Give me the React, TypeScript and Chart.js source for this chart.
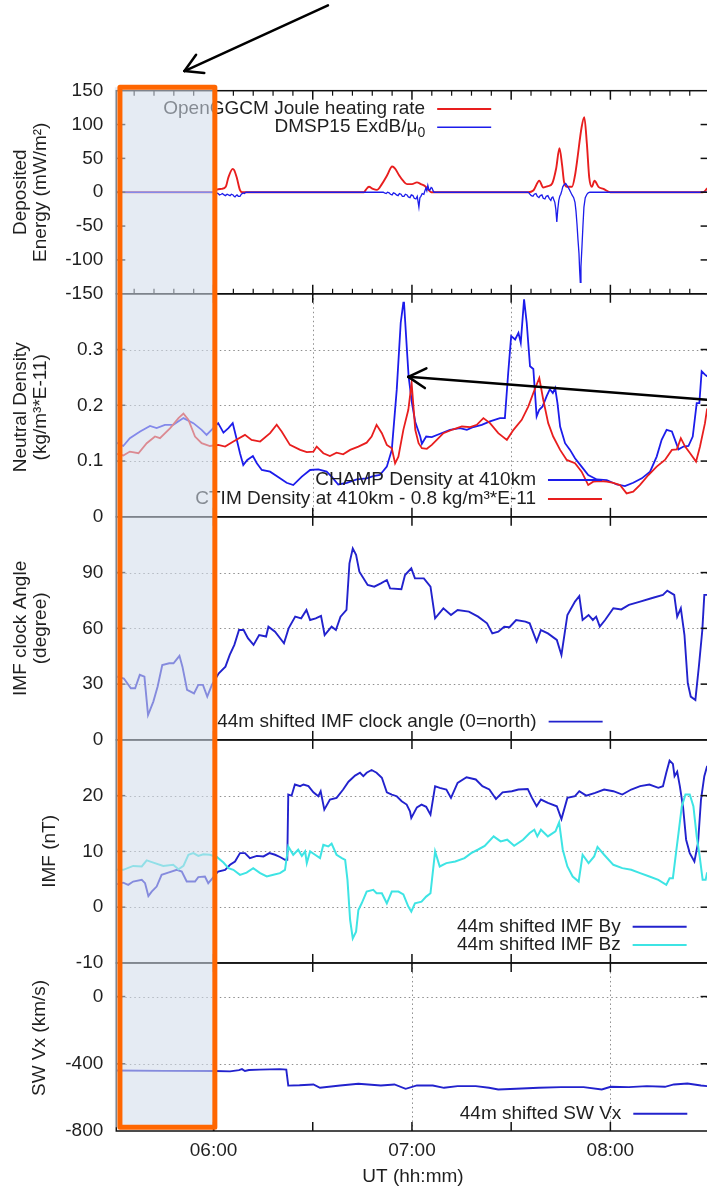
import { useEffect, useRef } from 'react';
import { Chart, registerables } from 'chart.js';

Chart.register(...registerables);

type Pt = [number, number];

// Universal time is kept in minutes after 00:00 UT.
const utStart = 330.6;
const utEnd = 510;
const hourTicks = [360, 420, 480];
const halfHourMarks = [360, 390, 420, 450, 480];

const energyTicks = [150, 100, 50, 0, -50, -100, -150];
const densityTicks = [0.3, 0.2, 0.1, 0];
const clockTicks = [90, 60, 30, 0];
const imfTicks = [20, 10, 0, -10];
const vxTicks = [0, -400, -800];

// OpenGGCM Joule heating rate (mW/m²)
const jouleHeating: Pt[] = [
  [330.6, 0], [360.3, 0], [361.0, 4], [362.5, 5], [363.7, 8], [364.5, 22], [365.8, 34.5], [366.2, 33],
  [367.0, 22], [368.0, 3], [368.6, 0],
  [405.5, 0], [406.1, 4], [407.0, 8], [408.2, 5], [409.4, 3.5], [410.9, 12], [412.5, 25], [414.0, 38],
  [414.9, 35], [416.1, 25], [417.3, 17], [418.5, 12], [420.0, 12], [421.5, 14.5], [422.7, 12], [424.0, 9],
  [424.9, 4], [425.8, 0],
  [455.1, 0], [456.7, 2.5], [458.5, 17], [459.7, 7], [461.1, 9], [462.4, 13], [463.6, 35], [464.6, 65],
  [465.4, 40], [466.0, 15], [466.9, 8], [468.4, 8], [469.3, 25], [469.9, 45], [471.3, 96], [472.1, 111],
  [472.9, 71], [473.6, 22], [474.4, 8], [475.2, 17], [476.4, 8], [477.9, 5], [479.9, 0],
  [508.0, 0], [509.2, 5], [510.5, 10],
];

// DMSP F15 Poynting flux ExdB/μ0 (mW/m²)
const dmspPoynting: Pt[] = [
  [330.6, 0], [360.4, 0], [360.9, -1], [361.4, -2], [361.8, -4], [362.3, -3], [362.7, -2], [363.2, -4],
  [363.6, -5], [364.1, -3], [364.5, -4], [365.0, -5], [365.4, -3], [365.9, -4], [366.2, -6], [366.5, -7],
  [366.8, -5], [367.1, -4], [367.5, -6], [368.0, -6], [368.4, -3], [368.9, -1], [369.3, -2], [369.8, 0],
  [411.3, 0], [411.7, -1], [412.2, -2], [412.6, 0], [413.1, -1], [413.5, -3], [414.0, -4], [414.4, -1],
  [414.9, -2], [415.3, -4], [415.8, -5], [416.2, -2], [416.7, -3], [417.1, -6], [417.6, -6], [418.0, -3],
  [418.5, -4], [418.9, -7], [419.4, -8], [419.8, -4], [420.3, -5], [420.7, -9], [421.2, -10], [421.6, -6],
  [422.1, -22], [422.4, -8], [422.7, -6], [423.1, -2], [423.6, -3], [423.9, 2], [424.2, 6], [424.5, 2],
  [424.8, 10], [425.1, 4], [425.4, 3], [425.8, 7], [426.1, 6], [426.4, 2], [426.7, 0],
  [455.1, 0], [455.4, -1], [455.7, -3], [456.1, -5], [456.6, -6], [457.0, -3], [457.5, -2], [457.9, -6],
  [458.4, -8], [458.8, -5], [459.3, -4], [459.7, -9], [460.2, -10], [460.6, -6], [461.1, -5], [461.5, -9],
  [462.0, -12], [462.3, -8], [462.6, -7], [462.9, -11], [463.2, -15], [463.5, -25], [463.8, -44],
  [464.1, -25], [464.4, -12], [464.7, -6], [465.0, -3], [465.3, 2], [465.6, 8], [466.0, 11], [466.5, 13],
  [467.0, 9], [467.5, 5], [468.0, 0], [468.4, -4], [468.9, -8], [469.3, -15], [469.6, -28], [469.9, -47],
  [470.2, -70], [470.5, -90], [470.7, -115], [470.9, -133], [471.1, -110], [471.4, -81], [471.7, -50],
  [472.0, -22], [472.4, -8], [472.9, -3], [473.3, -1], [473.8, 0], [510, 0],
];

// CHAMP neutral density at 410 km (kg/m³ × 1e-11)
const champDensity: Pt[] = [
  [329.9, 0.135], [332.7, 0.127], [334.7, 0.141], [337.8, 0.153], [340.8, 0.163], [342.8, 0.159],
  [345.3, 0.165], [347.8, 0.165], [350.9, 0.177], [353.9, 0.168], [356.4, 0.156], [357.9, 0.147],
  [359.4, 0.156], [361.4, 0.168], [363.0, 0.151], [364.5, 0.159], [365.8, 0.168], [366.8, 0.144],
  [368.0, 0.114], [369.0, 0.093], [370.2, 0.102], [371.9, 0.109], [373.1, 0.096], [374.6, 0.084],
  [377.1, 0.081], [380.1, 0.069], [382.1, 0.061], [384.1, 0.057], [386.7, 0.072], [389.2, 0.084],
  [391.7, 0.085], [394.2, 0.081], [395.7, 0.072], [397.7, 0.058], [400.3, 0.061], [403.3, 0.067],
  [406.3, 0.069], [408.3, 0.073], [410.3, 0.075], [412.4, 0.09], [413.9, 0.12], [415.4, 0.228],
  [416.6, 0.348], [417.4, 0.384], [417.6, 0.384], [418.6, 0.288], [419.0, 0.251], [420.0, 0.204],
  [421.0, 0.17], [422.5, 0.144], [423.0, 0.131], [424.3, 0.144], [426.0, 0.143], [428.5, 0.149],
  [431.5, 0.156], [434.5, 0.159], [436.6, 0.156], [438.6, 0.161], [441.1, 0.165], [443.6, 0.171],
  [446.6, 0.177], [448.1, 0.177], [449.1, 0.258], [450.0, 0.324], [451.2, 0.318], [452.2, 0.33],
  [452.9, 0.312], [453.9, 0.39], [454.7, 0.348], [455.7, 0.27], [456.7, 0.265], [457.7, 0.18],
  [458.5, 0.192], [459.5, 0.198], [460.7, 0.216], [461.7, 0.229], [462.6, 0.222], [463.3, 0.231],
  [464.0, 0.204], [464.8, 0.162], [466.3, 0.132], [467.8, 0.12], [469.3, 0.105], [471.3, 0.09],
  [473.3, 0.075], [475.9, 0.067], [478.9, 0.066], [481.9, 0.058], [484.4, 0.055], [486.9, 0.061],
  [489.5, 0.069], [492.0, 0.081], [494.0, 0.108], [495.5, 0.138], [497.0, 0.156], [498.6, 0.153],
  [500.6, 0.121], [502.1, 0.126], [503.6, 0.127], [504.9, 0.144], [506.1, 0.204], [506.9, 0.204],
  [507.6, 0.261], [508.6, 0.255], [509.2, 0.252], [510.7, 0.25],
];

// CTIM neutral density at 410 km, offset by -0.8 (kg/m³ × 1e-11)
const ctimDensity: Pt[] = [
  [329.9, 0.114], [332.7, 0.11], [334.7, 0.117], [337.3, 0.114], [339.8, 0.132], [342.3, 0.144],
  [343.8, 0.141], [346.9, 0.159], [349.4, 0.177], [350.9, 0.185], [352.4, 0.174], [354.4, 0.144],
  [356.4, 0.132], [358.9, 0.127], [361.4, 0.129], [363.5, 0.126], [366.0, 0.135], [369.5, 0.147],
  [371.5, 0.138], [374.1, 0.135], [377.1, 0.15], [379.1, 0.165], [380.6, 0.153], [383.1, 0.129],
  [386.2, 0.12], [388.2, 0.116], [390.2, 0.117], [391.2, 0.126], [393.2, 0.114], [395.2, 0.109],
  [397.2, 0.115], [399.2, 0.112], [401.3, 0.12], [403.8, 0.126], [406.3, 0.133], [407.8, 0.144],
  [409.3, 0.165], [410.9, 0.15], [412.4, 0.129], [413.9, 0.123], [414.9, 0.096], [415.9, 0.108],
  [417.4, 0.156], [418.9, 0.192], [419.9, 0.24], [421.0, 0.156], [422.0, 0.132], [423.0, 0.123],
  [424.5, 0.122], [426.0, 0.129], [427.5, 0.138], [429.5, 0.15], [432.5, 0.157], [435.1, 0.162],
  [437.6, 0.161], [439.6, 0.165], [441.6, 0.177], [443.6, 0.168], [446.1, 0.15], [448.7, 0.138],
  [450.7, 0.156], [453.2, 0.174], [455.2, 0.198], [456.7, 0.222], [458.5, 0.249], [459.7, 0.21],
  [461.2, 0.168], [462.7, 0.144], [464.8, 0.12], [466.8, 0.102], [469.3, 0.096], [471.3, 0.081],
  [473.3, 0.057], [474.8, 0.063], [476.9, 0.064], [478.9, 0.063], [480.9, 0.061], [482.9, 0.057],
  [484.9, 0.042], [486.9, 0.045], [488.9, 0.057], [491.5, 0.075], [494.0, 0.09], [496.5, 0.102],
  [498.6, 0.12], [500.1, 0.121], [501.3, 0.141], [502.6, 0.126], [504.1, 0.114], [505.9, 0.099],
  [507.1, 0.126], [508.6, 0.168], [509.2, 0.192], [510.7, 0.21],
];

// 44 min shifted IMF clock angle (degrees, 0 = north)
const clockAngle: Pt[] = [
  [330.9, 34], [332.9, 33], [335.0, 27.8], [336.3, 27.8], [337.7, 35], [339.1, 34], [340.2, 13.4],
  [341.8, 20.6], [343.1, 28.7], [344.5, 40.3], [346.6, 41.2], [347.9, 41.2], [349.7, 45.2], [350.6, 39.4],
  [352.0, 26.9], [354.1, 25], [355.4, 29.6], [356.8, 29.6], [358.1, 23.3], [359.5, 29.6], [361.6, 35.8],
  [363.6, 39.4], [364.9, 45.7], [366.3, 51.1], [367.7, 59.1], [369.1, 59.1], [370.4, 54.7], [372.1, 51.1],
  [373.8, 56.4], [375.9, 55.6], [376.6, 60.9], [378.6, 58.2], [381.3, 52], [382.7, 60], [384.7, 66.3],
  [386.5, 65.4], [388.1, 69.9], [389.2, 64.5], [390.9, 65.4], [392.5, 66.7], [393.6, 56.4], [395.7, 60.9],
  [397.0, 59.1], [398.4, 66.3], [400.2, 69.9], [401.1, 95], [402.1, 103], [403.1, 99.5], [404.1, 90.5],
  [406.6, 83.3], [408.6, 82.4], [410.6, 84.2], [412.4, 86], [413.4, 81.5], [416.8, 81], [417.9, 88.7],
  [419.8, 92.3], [420.9, 86.9], [423.6, 86.9], [425.6, 82.4], [427.0, 65.4], [429.5, 70.8], [431.8, 67.2],
  [433.8, 69.9], [437.2, 69], [440.0, 66.3], [442.7, 62.7], [444.3, 57.3], [446.1, 58.2], [447.9, 60.9],
  [449.5, 60.6], [451.5, 64.5], [454.3, 63.6], [455.6, 62.7], [457.7, 52.9], [459.0, 59.1], [461.1, 57.3],
  [463.8, 53.8], [465.2, 45.7], [467.0, 67.2], [469.3, 74.4], [470.6, 77.4], [471.6, 64.5], [473.4, 67.2],
  [474.7, 64.5], [475.7, 66.3], [476.8, 60.9], [478.4, 64.5], [480.9, 70.8], [483.3, 70.2], [485.6, 72.6],
  [489.0, 74.4], [492.4, 76.2], [495.9, 78], [497.2, 80.3], [499.3, 78], [500.2, 66.3], [501.3, 70.8],
  [502.4, 56.4], [503.4, 30.5], [504.3, 23.3], [505.7, 21.5], [506.8, 40.3], [507.8, 59.1], [508.4, 78],
  [510.5, 78],
];

// 44 min shifted IMF By (nT)
const imfBy: Pt[] = [
  [329.9, 4.0], [332.7, 4.4], [334.2, 4.0], [335.7, 4.6], [338.3, 4.9], [339.3, 4.3], [340.3, 2.0],
  [341.3, 2.8], [342.8, 3.7], [344.3, 5.8], [346.3, 6.2], [348.9, 6.7], [350.4, 6.4], [351.9, 4.6],
  [354.4, 4.6], [355.4, 5.4], [357.4, 5.5], [358.4, 4.3], [359.4, 5.0], [361.4, 6.4], [363.5, 6.7],
  [365.0, 7.6], [366.5, 8.2], [368.0, 9.7], [369.5, 9.7], [371.0, 8.8], [373.1, 9.2], [375.1, 9.1],
  [376.9, 9.7], [378.6, 9.4], [380.1, 9.0], [381.6, 8.5], [382.3, 8.5], [382.6, 20.2], [383.6, 20.0],
  [384.6, 22.0], [386.2, 21.7], [387.2, 22.0], [388.7, 21.7], [390.2, 20.6], [391.7, 19.9], [392.4, 20.8],
  [393.5, 17.5], [395.2, 19.3], [397.2, 19.6], [399.2, 21.1], [400.8, 22.5], [402.8, 23.6], [404.3, 24.1],
  [405.3, 23.5], [406.3, 24.1], [407.8, 24.6], [409.3, 24.1], [410.9, 23.2], [412.4, 20.6], [413.9, 20.2],
  [415.4, 19.9], [416.9, 19.0], [418.4, 18.4], [419.4, 17.2], [419.8, 16.0], [421.5, 17.9], [422.9, 18.4],
  [424.3, 18.0], [425.6, 16.6], [427.0, 21.7], [428.4, 21.4], [430.4, 21.1], [431.8, 19.6], [433.8, 22.3],
  [436.5, 23.3], [439.3, 22.9], [441.3, 21.7], [443.4, 21.1], [445.4, 19.4], [447.4, 20.6], [450.2, 20.8],
  [452.2, 21.1], [455.0, 21.2], [456.3, 19.6], [457.7, 18.1], [459.0, 19.3], [461.1, 18.7], [463.8, 18.1],
  [465.2, 15.8], [467.0, 19.6], [469.3, 19.9], [470.6, 20.8], [472.7, 20.0], [475.4, 20.5], [478.1, 21.1],
  [480.9, 20.8], [483.6, 20.2], [486.3, 21.1], [489.0, 21.7], [491.8, 22.0], [494.5, 21.4], [495.9, 21.7],
  [496.9, 24.1], [497.9, 26.3], [498.9, 25.7], [499.4, 23.5], [500.2, 24.3], [501.0, 21.7], [502.0, 17.8],
  [502.9, 12.1], [504.0, 9.7], [505.4, 8.2], [506.5, 11.5], [507.4, 19.3], [508.4, 23.5], [509.2, 25.2],
  [510.5, 25.2],
];

// 44 min shifted IMF Bz (nT)
const imfBz: Pt[] = [
  [329.9, 6.7], [332.7, 6.7], [335.7, 7.4], [338.3, 7.3], [339.8, 8.4], [341.8, 8.0], [344.8, 7.4],
  [347.8, 7.6], [349.4, 6.8], [350.9, 7.4], [352.4, 9.4], [353.9, 9.7], [355.4, 9.2], [356.9, 9.5],
  [358.9, 9.4], [361.0, 9.0], [363.0, 8.0], [364.5, 7.0], [366.0, 6.7], [368.0, 5.8], [370.0, 6.2],
  [372.0, 7.0], [374.1, 6.1], [376.1, 5.5], [378.1, 5.8], [380.1, 6.1], [381.6, 6.7], [382.6, 10.9],
  [384.1, 9.4], [385.6, 10.3], [386.7, 9.2], [387.7, 10.0], [388.2, 7.9], [389.2, 10.0], [390.7, 9.4],
  [392.2, 8.8], [393.2, 11.2], [394.7, 10.9], [395.7, 11.4], [397.2, 9.4], [398.8, 8.8], [399.8, 8.5],
  [400.5, 4.9], [401.3, -2.3], [402.1, -5.6], [403.1, -4.4], [403.8, -0.5], [404.8, 0.7], [406.3, 2.8],
  [408.3, 3.1], [409.3, 2.5], [410.9, 2.5], [412.4, 0.7], [413.9, 2.8], [415.9, 2.8], [417.4, 2.3],
  [418.9, 0.1], [419.8, -0.8], [420.9, 0.7], [422.9, 1.0], [424.3, 1.9], [425.6, 2.5], [427.0, 10.0],
  [428.4, 7.3], [430.4, 7.9], [433.1, 8.2], [435.9, 8.8], [437.9, 9.7], [439.9, 10.3], [442.0, 11.0],
  [444.7, 12.7], [446.8, 11.8], [448.8, 12.1], [450.9, 11.0], [453.6, 12.1], [455.6, 13.3], [457.0, 13.9],
  [457.9, 12.7], [459.0, 13.9], [461.1, 12.7], [463.4, 13.6], [464.5, 15.2], [465.6, 10.3], [467.0, 7.3],
  [468.6, 5.5], [470.4, 4.6], [471.6, 9.4], [473.4, 7.9], [475.1, 9.1], [476.1, 10.8], [478.1, 9.4],
  [480.9, 7.6], [483.6, 7.0], [486.3, 6.7], [489.0, 6.1], [491.8, 5.5], [494.5, 4.9], [496.9, 4.0],
  [497.9, 5.2], [498.9, 5.2], [499.9, 10.0], [500.6, 13.3], [501.6, 18.1], [502.7, 20.2], [504.0, 20.2],
  [505.1, 18.1], [506.1, 12.7], [507.0, 9.1], [507.9, 4.9], [508.8, 4.9], [509.2, 6.1], [510.5, 6.1],
];

// 44 min shifted solar wind Vx (km/s)
const swVx: Pt[] = [
  [330.6, -440], [345.0, -442], [360.4, -443], [365.0, -445], [367.7, -438], [368.6, -432], [369.5, -443],
  [370.7, -437], [374.0, -435], [380.0, -432], [382.0, -435], [382.6, -530], [386.0, -528], [390.2, -523],
  [392.2, -543], [398.3, -529], [403.8, -519], [410.6, -529], [414.7, -523], [418.1, -549], [421.5, -529],
  [426.3, -529], [429.7, -543], [433.8, -533], [439.3, -533], [443.3, -543], [446.1, -553], [451.5, -549],
  [458.3, -543], [465.1, -539], [471.9, -539], [477.4, -553], [480.1, -537], [485.6, -539], [491.0, -533],
  [496.5, -537], [499.2, -523], [503.3, -517], [507.4, -529], [509.2, -533], [511.0, -530],
];

const FONT_FAMILY = '"Liberation Sans", Arial, Helvetica, sans-serif';
const FONT_SIZE = 19;
const TEXT_COLOR = '#1f1f1f';

const RED = 'rgb(232, 30, 30)';
const BLUE = 'rgb(28, 28, 235)';
const NAVY = 'rgb(34, 34, 205)';
const CYAN = 'rgb(62, 228, 228)';

const SERIES = {
  dmsp: { label: 'DMSP15 ExdB/μ', sub: '0', data: dmspPoynting, axis: 'yEnergy', color: BLUE, width: 1.3, smooth: false },
  joule: { label: 'OpenGGCM Joule heating rate', data: jouleHeating, axis: 'yEnergy', color: RED, width: 1.9, smooth: true },
  ctim: { label: 'CTIM Density at 410km - 0.8 kg/m³*E-11', data: ctimDensity, axis: 'yDensity', color: RED, width: 1.8, smooth: false },
  champ: { label: 'CHAMP Density at 410km', data: champDensity, axis: 'yDensity', color: BLUE, width: 1.8, smooth: false },
  clock: { label: '44m shifted IMF clock angle (0=north)', data: clockAngle, axis: 'yClock', color: NAVY, width: 1.9, smooth: false },
  bz: { label: '44m shifted IMF Bz', data: imfBz, axis: 'yImf', color: CYAN, width: 2, smooth: false },
  by: { label: '44m shifted IMF By', data: imfBy, axis: 'yImf', color: NAVY, width: 1.9, smooth: false },
  vx: { label: '44m shifted SW Vx', data: swVx, axis: 'yVx', color: NAVY, width: 1.9, smooth: false },
};

// drawn top-most first
const drawOrder = ['dmsp', 'joule', 'ctim', 'champ', 'clock', 'bz', 'by', 'vx'];

const PANELS = [
  { id: 'yEnergy', min: -150, max: 150, weight: 203, ticks: energyTicks, gridY: [] as number[], gridX: [] as number[], minor: true,
    title: ['Deposited', 'Energy (mW/m²)'], titleX: [21, 41], titleDy: 0 },
  { id: 'yDensity', min: 0, max: 0.4, weight: 223, ticks: densityTicks, gridY: [0.1, 0.2, 0.3], gridX: [390, 450], minor: false,
    title: ['Neutral Density', '(kg/m³*E-11)'], titleX: [21, 41], titleDy: 2 },
  { id: 'yClock', min: 0, max: 120, weight: 223, ticks: clockTicks, gridY: [30, 60, 90], gridX: [] as number[], minor: false,
    title: ['IMF clock Angle', '(degree)'], titleX: [21, 41], titleDy: 0 },
  { id: 'yImf', min: -10, max: 30, weight: 223, ticks: imfTicks, gridY: [0, 10, 20], gridX: [] as number[], minor: false,
    title: ['IMF (nT)'], titleX: [49.5], titleDy: 0 },
  { id: 'yVx', min: -800, max: 200, weight: 168, ticks: vxTicks, gridY: [0, -400], gridX: hourTicks, minor: false,
    title: ['SW Vx (km/s)'], titleX: [40], titleDy: -9 },
];

// key entries: right edge of the text (UT minutes) and row heights (axis units)
const LEGENDS = [
  { axis: 'yEnergy', right: 424.0, rows: [['joule', 123], ['dmsp', 96]] },
  { axis: 'yDensity', right: 457.5, rows: [['champ', 0.066], ['ctim', 0.032]] },
  { axis: 'yClock', right: 457.7, rows: [['clock', 9.8]] },
  { axis: 'yImf', right: 483.1, rows: [['by', -3.5], ['bz', -6.8]] },
  { axis: 'yVx', right: 483.3, rows: [['vx', -697]] },
];

// highlighted interval and pointer arrows
const highlightStart = 331.7;
const highlightEnd = 360.4;
const highlightTop = 155; // yEnergy units
const highlightBottom = -778; // yVx units
const ARROWS = [
  { axis: 'yEnergy', from: [394.6, 276], to: [351.2, 179] },
  { axis: 'yDensity', from: [513.1, 0.208], to: [418.9, 0.251] },
];

const hhmm = (m: number) => {
  const h = Math.floor(m / 60);
  const mm = Math.round(m - h * 60);
  return `${String(h).padStart(2, '0')}:${String(mm).padStart(2, '0')}`;
};

const seg = (ctx: CanvasRenderingContext2D, x0: number, y0: number, x1: number, y1: number) => {
  ctx.beginPath();
  ctx.moveTo(x0, y0);
  ctx.lineTo(x1, y1);
  ctx.stroke();
};

const font = (size = FONT_SIZE) => `${size}px ${FONT_FAMILY}`;

const panelDecor = {
  id: 'panelDecor',
  beforeDatasetsDraw(chart: any) {
    const { ctx, chartArea: ca, scales } = chart;
    const xs = scales.x;
    ctx.save();
    ctx.strokeStyle = '#8e8e8e';
    ctx.lineWidth = 1;
    ctx.setLineDash([1.5, 3]);
    for (const p of PANELS) {
      const ys = scales[p.id];
      for (const v of p.gridY) {
        const py = Math.round(ys.getPixelForValue(v)) + 0.5;
        seg(ctx, ca.left, py, ca.right, py);
      }
      for (const t of p.gridX) {
        const px = Math.round(xs.getPixelForValue(t)) + 0.5;
        seg(ctx, px, ys.top, px, ys.bottom);
      }
    }
    ctx.restore();
  },
  afterDatasetsDraw(chart: any) {
    const { ctx, chartArea: ca, scales } = chart;
    const xs = scales.x;
    ctx.save();

    // panel frames and inward tick marks
    ctx.strokeStyle = '#111';
    ctx.lineWidth = 1.5;
    for (const p of PANELS) {
      const ys = scales[p.id];
      ctx.strokeRect(ca.left, ys.top, ca.right - ca.left, ys.bottom - ys.top);
      for (const v of p.ticks) {
        if (v === p.min || v === p.max) continue;
        const py = ys.getPixelForValue(v);
        seg(ctx, ca.left, py, ca.left + 9, py);
        seg(ctx, ca.right - 9, py, ca.right, py);
      }
      for (const t of halfHourMarks) {
        const px = xs.getPixelForValue(t);
        seg(ctx, px, ys.top, px, ys.top + 9);
        seg(ctx, px, ys.bottom - 9, px, ys.bottom);
      }
      if (p.minor) {
        ctx.lineWidth = 1.2;
        for (let t = 336; t < utEnd; t += 6) {
          if (t % 30 === 0) continue;
          const px = xs.getPixelForValue(t);
          seg(ctx, px, ys.top, px, ys.top + 5);
          seg(ctx, px, ys.bottom - 5, px, ys.bottom);
        }
        ctx.lineWidth = 1.5;
      }
    }

    // keys
    ctx.textBaseline = 'middle';
    for (const lg of LEGENDS) {
      const ys = scales[lg.axis];
      const xr = xs.getPixelForValue(lg.right);
      for (const [key, value] of lg.rows as [keyof typeof SERIES, number][]) {
        const s: any = SERIES[key];
        const py = ys.getPixelForValue(value);
        ctx.fillStyle = TEXT_COLOR;
        ctx.textAlign = 'right';
        let textRight = xr;
        if (s.sub) {
          ctx.font = font(14);
          const w = ctx.measureText(s.sub).width;
          ctx.fillText(s.sub, xr, py + 6);
          textRight = xr - w;
        }
        ctx.font = font();
        ctx.fillText(s.label, textRight, py);
        ctx.strokeStyle = s.color;
        ctx.lineWidth = s.width;
        seg(ctx, xr + 12, py, xr + 66, py);
      }
    }

    // shaded interval
    const hx0 = xs.getPixelForValue(highlightStart);
    const hx1 = xs.getPixelForValue(highlightEnd);
    const hy0 = scales.yEnergy.getPixelForValue(highlightTop);
    const hy1 = scales.yVx.getPixelForValue(highlightBottom);
    ctx.fillStyle = 'rgba(210, 220, 234, 0.57)';
    ctx.fillRect(ca.left - 1.5, hy0, hx1 - ca.left + 1.5, hy1 - hy0);
    ctx.strokeStyle = 'rgb(255, 102, 0)';
    ctx.lineWidth = 5;
    ctx.lineJoin = 'round';
    ctx.strokeRect(hx0, hy0, hx1 - hx0, hy1 - hy0);

    // arrows
    ctx.strokeStyle = '#000';
    ctx.lineWidth = 2.5;
    ctx.lineCap = 'round';
    for (const a of ARROWS) {
      const ys = scales[a.axis];
      const x0 = xs.getPixelForValue(a.from[0]);
      const y0 = ys.getPixelForValue(a.from[1]);
      const x1 = xs.getPixelForValue(a.to[0]);
      const y1 = ys.getPixelForValue(a.to[1]);
      seg(ctx, x0, y0, x1, y1);
      const ang = Math.atan2(y0 - y1, x0 - x1);
      for (const d of [-0.52, 0.52]) {
        seg(ctx, x1, y1, x1 + 20 * Math.cos(ang + d), y1 + 20 * Math.sin(ang + d));
      }
    }

    // axis titles
    ctx.fillStyle = TEXT_COLOR;
    ctx.font = font();
    ctx.textAlign = 'center';
    ctx.textBaseline = 'middle';
    for (const p of PANELS) {
      const ys = scales[p.id];
      const cy = (ys.top + ys.bottom) / 2 + p.titleDy;
      p.title.forEach((line, i) => {
        ctx.save();
        ctx.translate(p.titleX[i], cy);
        ctx.rotate(-Math.PI / 2);
        ctx.fillText(line, 0, 0);
        ctx.restore();
      });
    }
    ctx.fillText('UT (hh:mm)', (ca.left + ca.right) / 2, ca.bottom + 46);
    ctx.restore();
  },
};

export default function App() {
  const canvasRef = useRef<HTMLCanvasElement | null>(null);

  useEffect(() => {
    const canvas = canvasRef.current;
    if (!canvas) return;

    const scales: any = {
      x: {
        type: 'linear',
        position: 'bottom',
        min: utStart,
        max: utEnd,
        grid: { display: false, drawTicks: false },
        border: { display: false },
        afterBuildTicks: (s: any) => {
          s.ticks = hourTicks.map((value) => ({ value }));
        },
        afterFit: (s: any) => {
          s.height = 55;
        },
        ticks: {
          autoSkip: false,
          maxRotation: 0,
          padding: 8,
          color: TEXT_COLOR,
          font: { family: FONT_FAMILY, size: FONT_SIZE },
          callback: (v: any) => hhmm(Number(v)),
        },
      },
    };
    // bottom panel first: the stack is laid out with the last axis on top
    [...PANELS].reverse().forEach((p, i) => {
      scales[p.id] = {
        type: 'linear',
        position: 'left',
        stack: 'panels',
        stackWeight: p.weight,
        weight: i + 1,
        min: p.min,
        max: p.max,
        grid: { display: false, drawTicks: false },
        border: { display: false },
        afterBuildTicks: (s: any) => {
          s.ticks = p.ticks.map((value) => ({ value }));
        },
        afterFit: (s: any) => {
          s.width = 116.3;
        },
        ticks: {
          autoSkip: false,
          padding: 13,
          color: TEXT_COLOR,
          font: { family: FONT_FAMILY, size: FONT_SIZE },
          callback: (v: any) => String(v),
        },
      };
    });

    const chart = new Chart(canvas, {
      type: 'line',
      data: {
        datasets: drawOrder.map((key) => {
          const s = (SERIES as any)[key];
          return {
            label: s.label,
            data: s.data.map(([x, y]: Pt) => ({ x, y })),
            yAxisID: s.axis,
            xAxisID: 'x',
            borderColor: s.color,
            borderWidth: s.width,
            pointRadius: 0,
            fill: false,
            tension: 0,
            cubicInterpolationMode: s.smooth ? 'monotone' : 'default',
          };
        }),
      },
      options: {
        responsive: false,
        animation: false,
        devicePixelRatio: 1,
        layout: { padding: { top: 90.7, right: 30.4, bottom: 0, left: 0 } },
        plugins: { legend: { display: false }, tooltip: { enabled: false } },
        events: [],
        scales,
      },
      plugins: [panelDecor],
    });

    return () => chart.destroy();
  }, []);

  return (
    <div
      style={{
        position: 'fixed',
        left: 0,
        top: 0,
        width: 707,
        height: 1186,
        overflow: 'hidden',
        background: '#fff',
      }}
    >
      <canvas ref={canvasRef} width={740} height={1186} style={{ display: 'block' }} />
    </div>
  );
}
